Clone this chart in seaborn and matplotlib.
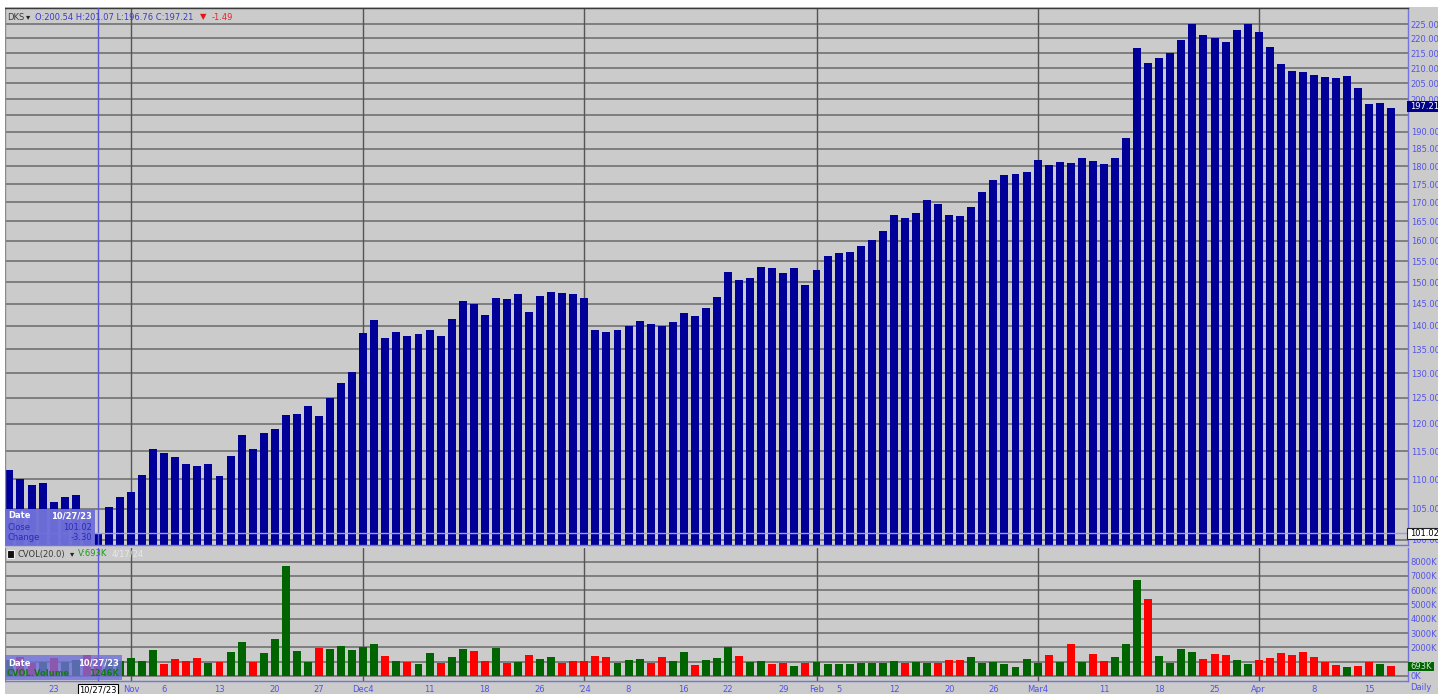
import numpy as np
import pandas as pd
import matplotlib
matplotlib.use("Agg")
import matplotlib.pyplot as plt
import seaborn as sns
from matplotlib.patches import Rectangle
from matplotlib.ticker import FixedLocator, FixedFormatter, NullLocator, NullFormatter

# ---------------- data ----------------
dates = [
    "2023-10-17", "2023-10-18", "2023-10-19", "2023-10-20", "2023-10-23", "2023-10-24", "2023-10-25",
    "2023-10-26", "2023-10-27", "2023-10-30", "2023-10-31",
    "2023-11-01", "2023-11-02", "2023-11-03", "2023-11-06", "2023-11-07", "2023-11-08", "2023-11-09",
    "2023-11-10", "2023-11-13", "2023-11-14", "2023-11-15", "2023-11-16", "2023-11-17", "2023-11-20",
    "2023-11-21", "2023-11-22", "2023-11-24", "2023-11-27", "2023-11-28", "2023-11-29", "2023-11-30",
    "2023-12-01", "2023-12-04", "2023-12-05", "2023-12-06", "2023-12-07", "2023-12-08", "2023-12-11",
    "2023-12-12", "2023-12-13", "2023-12-14", "2023-12-15", "2023-12-18", "2023-12-19", "2023-12-20",
    "2023-12-21", "2023-12-22", "2023-12-26", "2023-12-27", "2023-12-28", "2023-12-29",
    "2024-01-02", "2024-01-03", "2024-01-04", "2024-01-05", "2024-01-08", "2024-01-09", "2024-01-10",
    "2024-01-11", "2024-01-12", "2024-01-16", "2024-01-17", "2024-01-18", "2024-01-19", "2024-01-22",
    "2024-01-23", "2024-01-24", "2024-01-25", "2024-01-26", "2024-01-29", "2024-01-30", "2024-01-31",
    "2024-02-01", "2024-02-02", "2024-02-05", "2024-02-06", "2024-02-07", "2024-02-08", "2024-02-09",
    "2024-02-12", "2024-02-13", "2024-02-14", "2024-02-15", "2024-02-16", "2024-02-20", "2024-02-21",
    "2024-02-22", "2024-02-23", "2024-02-26", "2024-02-27", "2024-02-28", "2024-02-29",
    "2024-03-01", "2024-03-04", "2024-03-05", "2024-03-06", "2024-03-07", "2024-03-08", "2024-03-11",
    "2024-03-12", "2024-03-13", "2024-03-14", "2024-03-15", "2024-03-18", "2024-03-19", "2024-03-20",
    "2024-03-21", "2024-03-22", "2024-03-25", "2024-03-26", "2024-03-27", "2024-03-28",
    "2024-04-01", "2024-04-02", "2024-04-03", "2024-04-04", "2024-04-05", "2024-04-08", "2024-04-09",
    "2024-04-10", "2024-04-11", "2024-04-12", "2024-04-15", "2024-04-16", "2024-04-17",
]

close = [
    111.6, 110.0, 109.0, 109.4, 106.2, 107.0, 107.3, 104.32, 101.02, 105.3, 107.0,
    107.8, 110.8, 115.4, 114.6, 113.9, 112.7, 112.3, 112.7, 110.6, 114.1, 117.9,
    115.4, 118.3, 119.1, 121.7, 121.9, 123.4, 121.5, 125.0, 128.0, 130.2,
    138.4, 141.3, 137.3, 138.6, 137.7, 138.3, 139.0, 137.9, 141.5, 145.5, 144.8,
    142.4, 146.3, 146.0, 147.2, 143.1, 146.8, 147.6, 147.5, 147.2,
    146.3, 139.0, 138.7, 139.1, 140.0, 141.1, 140.4, 140.0, 140.9, 142.9, 142.1,
    144.1, 146.6, 152.4, 150.4, 151.0, 153.5, 153.3, 152.2, 153.3, 149.3,
    152.8, 156.3, 156.9, 157.3, 158.7, 160.3, 162.5, 166.6, 165.8, 167.3, 170.6,
    169.5, 166.6, 166.3, 168.9, 172.9, 176.1, 177.6, 177.9, 178.2,
    181.7, 180.2, 181.2, 181.0, 182.3, 181.4, 180.6, 182.3, 188.2, 216.9, 211.6,
    213.2, 215.1, 219.4, 225.0, 221.3, 220.1, 218.7, 222.9, 225.2,
    222.2, 217.0, 211.3, 208.9, 208.6, 207.8, 207.2, 206.6, 207.5, 203.4, 198.5,
    198.70, 197.21,
]

volume_k = [
    1100, 1300, 900, 1000, 1250, 950, 1100, 1500, 1246, 1150, 1050,
    1240, 1070, 1820, 820, 1170, 1070, 1280, 930, 1000, 1660, 2400,
    1000, 1630, 2570, 7710, 1750, 1000, 1940, 1890, 2120, 1820,
    2050, 2210, 1400, 1070, 1000, 840, 1630, 890, 1350, 1870, 1770,
    1070, 1980, 930, 960, 1470, 1190, 1310, 930, 1050,
    1050, 1420, 1350, 890, 1120, 1190, 890, 1310, 1070, 1660, 770,
    1120, 1240, 2050, 1400, 960, 1080, 830, 910, 700, 910,
    960, 830, 830, 830, 910, 880, 880, 1040, 880, 1010, 910,
    880, 1140, 1140, 1340, 910, 960, 830, 620, 1220,
    880, 1480, 1010, 2250, 960, 1560, 1020, 1320, 2250, 6740, 5360,
    1410, 900, 1860, 1650, 1200, 1560, 1470, 1110, 870,
    1110, 1260, 1620, 1470, 1710, 1350, 960, 750, 600, 720, 960,
    870, 693,
]

tick_dates = ["2023-10-23", "2023-10-27", "2023-11-01", "2023-11-06", "2023-11-13", "2023-11-20",
              "2023-11-27", "2023-12-01", "2023-12-11", "2023-12-18", "2023-12-26", "2024-01-02",
              "2024-01-08", "2024-01-16", "2024-01-22", "2024-01-29", "2024-02-01", "2024-02-05",
              "2024-02-12", "2024-02-20", "2024-02-26", "2024-03-01", "2024-03-11", "2024-03-18",
              "2024-03-25", "2024-04-01", "2024-04-08", "2024-04-15"]
tick_labels = ["23", "10/27/23", "Nov", "6", "13", "20", "27", "Dec4", "11", "18", "26", "'24",
               "8", "16", "22", "29", "Feb", "5", "12", "20", "26", "Mar4", "11", "18", "25",
               "Apr", "8", "15"]
month_starts = ["2023-11-01", "2023-12-01", "2024-01-02", "2024-02-01", "2024-03-01", "2024-04-01"]

price_ticks = [100, 105, 110, 115, 120, 125, 130, 135, 140, 145, 150, 155, 160, 165, 170,
               175, 180, 185, 190, 195, 200, 205, 210, 215, 220, 225]
volume_ticks_k = [0, 1000, 2000, 3000, 4000, 5000, 6000, 7000, 8000]

# ---------------- frame ----------------
df = pd.DataFrame({"date": dates, "close": close, "vol": volume_k})
df["pos"] = np.arange(len(df))
prev = df["close"].shift(1).fillna(df["close"])
df["dir"] = np.where(df["close"] >= prev, "up", "down")
pos_of = dict(zip(df["date"], df["pos"]))
cross = pos_of["2023-10-27"]

sns.set_theme(style="white")
plt.rcParams["font.family"] = ["DejaVu Sans"]

W, H = 1447, 694
fig = plt.figure(figsize=(W / 100, H / 100), dpi=100, facecolor="white")


def fx(px):
    return px / W


def fy(py):
    return 1 - py / H


BG = "#cbcbcb"
BLUE_TXT = "#5252ee"
GRID = "#6a6a6a"
fig.add_artist(Rectangle((fx(5), 0), fx(1438) - fx(5), fy(7), transform=fig.transFigure,
                         facecolor=BG, edgecolor="none", zorder=-5))

ax_p = fig.add_axes([fx(5), fy(545), fx(1408) - fx(5), (545 - 8) / H])
ax_v = fig.add_axes([fx(5), fy(681), fx(1408) - fx(5), (681 - 548) / H])

# labels hidden behind the value flags on the right axis
hidden_price_labels = {195}
hidden_volume_labels = {1000}

# ---------------- price panel ----------------
ax_p.set_facecolor(BG)
sns.barplot(data=df, x="pos", y="close", native_scale=True, color="#000099", width=0.72,
            linewidth=0, saturation=1, ax=ax_p, zorder=2, errorbar=None)
ax_p.set_yscale("log")
ax_p.set_ylim(99.2, 230.8)
ax_p.set_xlim(-0.4, 126.5)
ax_p.yaxis.tick_right()
ax_p.yaxis.set_major_locator(FixedLocator(price_ticks))
ax_p.yaxis.set_major_formatter(FixedFormatter(
    ["" if v in hidden_price_labels else f"{v:.2f}" for v in price_ticks]))
ax_p.yaxis.set_minor_locator(NullLocator())
ax_p.yaxis.set_minor_formatter(NullFormatter())
ax_p.tick_params(axis="y", length=0, labelsize=6, labelcolor=BLUE_TXT, pad=2)
ax_p.set_xticks([])
ax_p.set_xlabel("")
ax_p.set_ylabel("")
ax_p.set_axisbelow(True)
ax_p.grid(axis="y", color=GRID, lw=1.1)
for m in month_starts:
    ax_p.axvline(pos_of[m], color="#555555", lw=1.0, zorder=1)
ax_p.axvline(cross, color="#5a5ad2", lw=1.0, zorder=3)
ax_p.axhline(101.02, color="#9c9ce8", lw=1.0, zorder=3)
for s in ["right", "bottom"]:
    ax_p.spines[s].set_color("#7474dc")
ax_p.spines["top"].set_color("#3a3a3a")
ax_p.spines["left"].set_color("#8a8a8a")
for s in ax_p.spines.values():
    s.set_linewidth(1.0)

# ---------------- volume panel ----------------
ax_v.set_facecolor(BG)
sns.barplot(data=df, x="pos", y="vol", hue="dir", palette={"up": "#006400", "down": "#ff0000"},
            native_scale=True, dodge=False, width=0.72, linewidth=0, saturation=1,
            legend=False, ax=ax_v, zorder=2, errorbar=None)
ax_v.set_xlim(-0.4, 126.5)
ax_v.set_ylim(-350, 8950)
ax_v.yaxis.tick_right()
ax_v.set_yticks(volume_ticks_k)
ax_v.set_yticklabels(["" if v in hidden_volume_labels else f"{v}K" for v in volume_ticks_k])
ax_v.tick_params(axis="y", length=0, labelsize=6, labelcolor=BLUE_TXT, pad=2)
ax_v.set_xticks([pos_of[d] for d in tick_dates])
ax_v.set_xticklabels(tick_labels)
ax_v.tick_params(axis="x", length=0, labelsize=6, labelcolor=BLUE_TXT, pad=3)
for lab in ax_v.get_xticklabels():
    if lab.get_text() == "10/27/23":
        lab.set_color("black")
        lab.set_bbox(dict(facecolor="white", edgecolor="black", boxstyle="square,pad=0.15", lw=0.8))
ax_v.set_xlabel("")
ax_v.set_ylabel("")
ax_v.set_axisbelow(True)
ax_v.grid(axis="y", color=GRID, lw=1.1)
for m in month_starts:
    ax_v.axvline(pos_of[m], color="#555555", lw=1.0, zorder=1)
ax_v.axvline(cross, color="#5a5ad2", lw=1.0, zorder=3)
ax_v.spines["top"].set_visible(False)
ax_v.spines["left"].set_color("#8a8a8a")
for s in ["right", "bottom"]:
    ax_v.spines[s].set_color("#7474dc")
for s in ax_v.spines.values():
    s.set_linewidth(1.0)

# ---------------- overlays (figure pixel coords) ----------------
def ftext(px, py, s, **kw):
    kw.setdefault("fontsize", 6)
    kw.setdefault("va", "center")
    fig.text(fx(px), fy(py), s, **kw)


def frect(x0, y0, x1, y1, **kw):
    fig.add_artist(Rectangle((fx(x0), fy(y1)), fx(x1) - fx(x0), (y1 - y0) / H,
                             transform=fig.transFigure, **kw))


# header of price panel
ftext(7, 17, "DKS", color="#3a3a3a")
ftext(26, 17, "▾", color="#222222")
ftext(35, 17, "O:200.54 H:201.07 L:196.76 C:197.21", color="#3a3ac8")
ftext(200, 17, "▼", color="#ee1111")
ftext(212, 17, "-1.49", color="#ee2222")

# price data box
frect(5, 509, 95, 545, facecolor="#6f6fd9", edgecolor="none", alpha=0.97, zorder=10)
ftext(8, 516, "Date", color="white", fontweight="bold", zorder=11)
ftext(92, 516, "10/27/23", color="white", fontweight="bold", ha="right", zorder=11)
ftext(8, 527, "Close", color="#2b2bb8", zorder=11)
ftext(92, 527, "101.02", color="#2b2bb8", ha="right", zorder=11)
ftext(8, 538, "Change", color="#2b2bb8", zorder=11)
ftext(92, 538, "-3.30", color="#2b2bb8", ha="right", zorder=11)

# volume header
frect(7, 550, 14, 558, facecolor="#111111", edgecolor="#eeeeee", lw=0.8, zorder=10)
ftext(17, 554, "CVOL(20.0)", color="#3a3a3a", zorder=11)
ftext(70, 554, "▾", color="#222222", zorder=11)
ftext(78, 554, "V:693K", color="#1a9a1a", zorder=11)
ftext(112, 554, "4/17/24", color="#e8e8e8", zorder=11)

# volume data box
frect(5, 655, 122, 680, facecolor="#6f6fd9", edgecolor="none", alpha=0.8, zorder=10)
ftext(8, 663, "Date", color="white", fontweight="bold", zorder=11)
ftext(119, 663, "10/27/23", color="white", fontweight="bold", ha="right", zorder=11)
ftext(7, 674, "CVOL.Volume", color="#137a13", fontweight="bold", zorder=11)
ftext(119, 674, "1246K", color="#137a13", fontweight="bold", ha="right", zorder=11)

# right-axis value flags
frect(1407, 101, 1440, 112, facecolor="#000088", edgecolor="none", zorder=10)
ftext(1410, 106.5, "197.21", color="white", zorder=11)
frect(1407, 528, 1440, 539, facecolor="white", edgecolor="#222222", lw=0.8, zorder=10)
ftext(1410, 533.5, "101.02", color="black", zorder=11)
frect(1408, 662, 1434, 671, facecolor="#006400", edgecolor="none", zorder=10)
ftext(1410, 666.5, "693K", color="#cfe9cf", zorder=11)
ftext(1410, 688, "Daily", color=BLUE_TXT, zorder=11)

# white margins
frect(1438, 0, 1447, 694, facecolor="white", edgecolor="none", zorder=100)
frect(0, 0, 1447, 7, facecolor="white", edgecolor="none", zorder=100)
frect(0, 0, 5, 694, facecolor="white", edgecolor="none", zorder=100)

fig.savefig("out.png", dpi=100, facecolor="white")
